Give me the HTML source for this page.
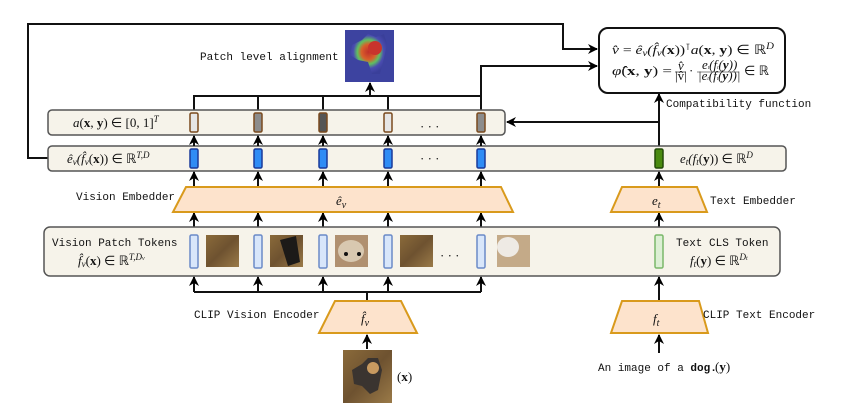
<!DOCTYPE html>
<html><head><meta charset="utf-8"><style>
body{margin:0;background:#fff;}
svg{display:block;}
.m{font-family:"Liberation Mono",monospace;font-size:11px;fill:#111;}
.s{font-family:"Liberation Serif",serif;font-size:13px;fill:#111;}
.i{font-style:italic;}
</style></head><body>
<svg width="841" height="408" viewBox="0 0 841 408" xmlns="http://www.w3.org/2000/svg">
<defs>
<marker id="a" viewBox="0 0 10 10" refX="9" refY="5" markerWidth="5" markerHeight="5" orient="auto-start-reverse"><path d="M0,0 L10,5 L0,10 L3,5 z" fill="#000"/></marker>
<radialGradient id="heat" cx="0.5" cy="0.45" r="0.55"><stop offset="0" stop-color="#c0302a"/><stop offset="0.35" stop-color="#d8602a"/><stop offset="0.55" stop-color="#60c060"/><stop offset="0.75" stop-color="#4a4cb0"/><stop offset="1" stop-color="#3a3f9a"/></radialGradient>
<linearGradient id="carpet" x1="0" y1="0" x2="1" y2="1"><stop offset="0" stop-color="#8a6a3a"/><stop offset="0.5" stop-color="#6e5230"/><stop offset="1" stop-color="#9a7a48"/></linearGradient>
</defs>
<g fill="none" stroke="#111" stroke-width="2">
<polyline points="48,158 28,158 28,24 563,24 563,49 597,49" marker-end="url(#a)"/>
<polyline points="481,110 481,66 597,66" marker-end="url(#a)"/>
<polyline points="194,110 194,96 481,96"/>
<line x1="258" y1="110" x2="258" y2="96"/><line x1="323" y1="110" x2="323" y2="96"/><line x1="388" y1="110" x2="388" y2="96"/>
<line x1="370" y1="96" x2="370" y2="83" marker-end="url(#a)"/>
<line x1="659" y1="146" x2="659" y2="94" marker-end="url(#a)"/>
<line x1="659" y1="122" x2="507" y2="122" marker-end="url(#a)"/>
</g>
<rect x="599" y="28" width="186" height="65" rx="9" fill="#fff" stroke="#111" stroke-width="2"/>
<text class="s" x="612" y="54" font-size="12.5" textLength="162" lengthAdjust="spacingAndGlyphs"><tspan class="i">v̂</tspan> = <tspan class="i">ê<tspan font-size="9" dy="2">v</tspan><tspan dy="-2">(f̂</tspan><tspan font-size="9" dy="2">v</tspan><tspan dy="-2">(</tspan></tspan><tspan font-weight="bold">x</tspan>))<tspan font-size="9" dy="-4">⊺</tspan><tspan dy="4" class="i">a</tspan>(<tspan font-weight="bold">x</tspan>, <tspan font-weight="bold">y</tspan>) ∈ ℝ<tspan font-size="9" dy="-5" class="i">D</tspan></text>
<text class="s" x="612" y="75" font-size="12.5" textLength="60" lengthAdjust="spacingAndGlyphs"><tspan class="i">φ̂</tspan>(<tspan font-weight="bold">x</tspan>, <tspan font-weight="bold">y</tspan>) =</text>
<text class="s i" x="678" y="70" font-size="7">v̂</text>
<line x1="675" y1="72" x2="686" y2="72" stroke="#111" stroke-width="0.6"/>
<text class="s" x="675" y="80" font-size="7">|v̂|</text>
<text class="s" x="689" y="75" font-size="12">·</text>
<text class="s i" x="702" y="69" font-size="7">e<tspan font-size="5">t</tspan>(f<tspan font-size="5">t</tspan>(<tspan font-weight="bold">y</tspan>))</text>
<line x1="697" y1="72" x2="739" y2="72" stroke="#111" stroke-width="0.6"/>
<text class="s i" x="698" y="80" font-size="7">|e<tspan font-size="5">t</tspan>(f<tspan font-size="5">t</tspan>(<tspan font-weight="bold">y</tspan>))|</text>
<text class="s" x="744" y="75" font-size="12.5">∈ ℝ</text>
<text class="m" x="666" y="107">Compatibility function</text>
<rect x="345" y="30" width="49" height="52" fill="#3d43a0"/>
<path d="M352,45 L362,40 L368,34 L376,37 L384,34 L387,44 L384,58 L380,74 L372,74 L368,62 L358,60 L350,55 z" fill="url(#heat)"/>
<circle cx="375" cy="48" r="7" fill="#c8342c"/>
<text class="m" x="200" y="60">Patch level alignment</text>
<rect x="48" y="110" width="457" height="25" rx="4" fill="#f6f3ea" stroke="#555" stroke-width="1.5"/>
<rect x="48" y="146" width="738" height="25" rx="4" fill="#f6f3ea" stroke="#555" stroke-width="1.5"/>
<text class="s" x="73" y="127"><tspan class="i">a</tspan>(<tspan font-weight="bold">x</tspan>, <tspan font-weight="bold">y</tspan>) ∈ [0, 1]<tspan font-size="9" dy="-5" class="i">T</tspan></text>
<text class="s" x="67" y="163"><tspan class="i">ê<tspan font-size="9" dy="2">v</tspan><tspan dy="-2">(f̂</tspan><tspan font-size="9" dy="2">v</tspan></tspan><tspan dy="-2">(</tspan><tspan font-weight="bold">x</tspan>)) ∈ ℝ<tspan font-size="9" dy="-5" class="i">T,D</tspan></text>
<text class="s" x="680" y="163"><tspan class="i">e<tspan font-size="9" dy="2">t</tspan><tspan dy="-2">(f</tspan><tspan font-size="9" dy="2">t</tspan></tspan><tspan dy="-2">(</tspan><tspan font-weight="bold">y</tspan>)) ∈ ℝ<tspan font-size="9" dy="-5" class="i">D</tspan></text>
<g stroke="#7a4a1e" stroke-width="1.5">
<rect x="190" y="113" width="8" height="19" rx="1.5" fill="#e6e6e6"/>
<rect x="254" y="113" width="8" height="19" rx="1.5" fill="#8c8c8c"/>
<rect x="319" y="113" width="8" height="19" rx="1.5" fill="#555"/>
<rect x="384" y="113" width="8" height="19" rx="1.5" fill="#e6e6e6"/>
<rect x="477" y="113" width="8" height="19" rx="1.5" fill="#8c8c8c"/>
</g>
<g stroke="#1a3a9a" stroke-width="1.5" fill="#2f8cf5">
<rect x="190" y="149" width="8" height="19" rx="1.5"/><rect x="254" y="149" width="8" height="19" rx="1.5"/><rect x="319" y="149" width="8" height="19" rx="1.5"/><rect x="384" y="149" width="8" height="19" rx="1.5"/><rect x="477" y="149" width="8" height="19" rx="1.5"/>
</g>
<rect x="655" y="149" width="8" height="19" rx="1.5" fill="#4a8a10" stroke="#234a08" stroke-width="1.5"/>
<text class="s" x="420" y="131" font-size="14">· · ·</text>
<text class="s" x="420" y="163" font-size="14">· · ·</text>
<g stroke="#111" stroke-width="2" fill="none">
<line x1="194" y1="146" x2="194" y2="136" marker-end="url(#a)"/><line x1="258" y1="146" x2="258" y2="136" marker-end="url(#a)"/><line x1="323" y1="146" x2="323" y2="136" marker-end="url(#a)"/><line x1="388" y1="146" x2="388" y2="136" marker-end="url(#a)"/><line x1="481" y1="146" x2="481" y2="136" marker-end="url(#a)"/>
<line x1="194" y1="187" x2="194" y2="172" marker-end="url(#a)"/><line x1="258" y1="187" x2="258" y2="172" marker-end="url(#a)"/><line x1="323" y1="187" x2="323" y2="172" marker-end="url(#a)"/><line x1="388" y1="187" x2="388" y2="172" marker-end="url(#a)"/><line x1="481" y1="187" x2="481" y2="172" marker-end="url(#a)"/>
<line x1="659" y1="187" x2="659" y2="172" marker-end="url(#a)"/>
<line x1="194" y1="227" x2="194" y2="213" marker-end="url(#a)"/><line x1="258" y1="227" x2="258" y2="213" marker-end="url(#a)"/><line x1="323" y1="227" x2="323" y2="213" marker-end="url(#a)"/><line x1="388" y1="227" x2="388" y2="213" marker-end="url(#a)"/><line x1="481" y1="227" x2="481" y2="213" marker-end="url(#a)"/>
<line x1="659" y1="227" x2="659" y2="213" marker-end="url(#a)"/>
<polyline points="194,292 481,292"/>
<line x1="194" y1="292" x2="194" y2="277" marker-end="url(#a)"/><line x1="258" y1="292" x2="258" y2="277" marker-end="url(#a)"/><line x1="323" y1="292" x2="323" y2="277" marker-end="url(#a)"/><line x1="388" y1="292" x2="388" y2="277" marker-end="url(#a)"/><line x1="481" y1="292" x2="481" y2="277" marker-end="url(#a)"/>
<line x1="367" y1="301" x2="367" y2="292"/>
<line x1="659" y1="301" x2="659" y2="277" marker-end="url(#a)"/>
<line x1="367" y1="349" x2="367" y2="335" marker-end="url(#a)"/>
<line x1="659" y1="353" x2="659" y2="335" marker-end="url(#a)"/>
</g>
<polygon points="186,187 501,187 513,212 173,212" fill="#fde3cc" stroke="#d99a1c" stroke-width="2"/>
<polygon points="622,187 697,187 707,212 611,212" fill="#fde3cc" stroke="#d99a1c" stroke-width="2"/>
<text class="s i" x="336" y="205" font-size="15">ê<tspan font-size="10" dy="3">v</tspan></text>
<text class="s i" x="652" y="205" font-size="15">e<tspan font-size="10" dy="3">t</tspan></text>
<text class="m" x="76" y="200">Vision Embedder</text>
<text class="m" x="710" y="204">Text Embedder</text>
<rect x="44" y="227" width="736" height="49" rx="6" fill="#f6f3ea" stroke="#555" stroke-width="1.5"/>
<text class="m" x="52" y="246">Vision Patch Tokens</text>
<text class="s" x="78" y="265"><tspan class="i">f̂<tspan font-size="9" dy="2">v</tspan></tspan><tspan dy="-2">(</tspan><tspan font-weight="bold">x</tspan>) ∈ ℝ<tspan font-size="9" dy="-5" class="i">T,D<tspan font-size="6">v</tspan></tspan></text>
<text class="m" x="676" y="246">Text CLS Token</text>
<text class="s" x="690" y="265"><tspan class="i">f<tspan font-size="9" dy="2">t</tspan></tspan><tspan dy="-2">(</tspan><tspan font-weight="bold">y</tspan>) ∈ ℝ<tspan font-size="9" dy="-5" class="i">D<tspan font-size="6">t</tspan></tspan></text>
<g stroke="#6a8ac8" stroke-width="1.5" fill="#d8e6fa">
<rect x="190" y="235" width="8" height="33" rx="1.5"/><rect x="254" y="235" width="8" height="33" rx="1.5"/><rect x="319" y="235" width="8" height="33" rx="1.5"/><rect x="384" y="235" width="8" height="33" rx="1.5"/><rect x="477" y="235" width="8" height="33" rx="1.5"/>
</g>
<rect x="655" y="235" width="8" height="33" rx="1.5" fill="#dcefd4" stroke="#7ab86a" stroke-width="1.5"/>
<rect x="206" y="235" width="33" height="32" fill="url(#carpet)"/>
<rect x="270" y="235" width="33" height="32" fill="url(#carpet)"/><path d="M280,240 L296,236 L300,262 L288,266 z" fill="#1c1a18"/>
<rect x="335" y="235" width="33" height="32" fill="#b09070"/><ellipse cx="351" cy="251" rx="13" ry="11" fill="#d8c8b0"/><circle cx="346" cy="254" r="2" fill="#111"/><circle cx="359" cy="254" r="2" fill="#111"/>
<rect x="400" y="235" width="33" height="32" fill="url(#carpet)"/>
<rect x="497" y="235" width="33" height="32" fill="#c4aa88"/><ellipse cx="508" cy="247" rx="11" ry="10" fill="#eeeae4"/>
<text class="s" x="440" y="260" font-size="14">· · ·</text>
<polygon points="335,301 401,301 417,333 319,333" fill="#fde3cc" stroke="#d99a1c" stroke-width="2"/>
<polygon points="622,301 699,301 708,333 611,333" fill="#fde3cc" stroke="#d99a1c" stroke-width="2"/>
<text class="s i" x="361" y="323" font-size="16">f̂<tspan font-size="10" dy="3">v</tspan></text>
<text class="s i" x="653" y="323" font-size="16">f<tspan font-size="10" dy="3">t</tspan></text>
<text class="m" x="194" y="318">CLIP Vision Encoder</text>
<text class="m" x="703" y="318">CLIP Text Encoder</text>
<rect x="343" y="350" width="49" height="53" fill="url(#carpet)"/>
<path d="M352,370 L362,364 L368,358 L378,358 L382,370 L378,390 L370,394 L362,386 L354,384 z" fill="#3a3430"/>
<circle cx="373" cy="368" r="6" fill="#c89a60"/>
<text class="s" x="397" y="381"><tspan>(</tspan><tspan font-weight="bold">x</tspan>)</text>
<text class="m" x="598" y="371">An image of a <tspan font-weight="bold">dog.</tspan></text>
<text class="s" x="715" y="371">(<tspan font-weight="bold">y</tspan>)</text>
</svg>
</body></html>
